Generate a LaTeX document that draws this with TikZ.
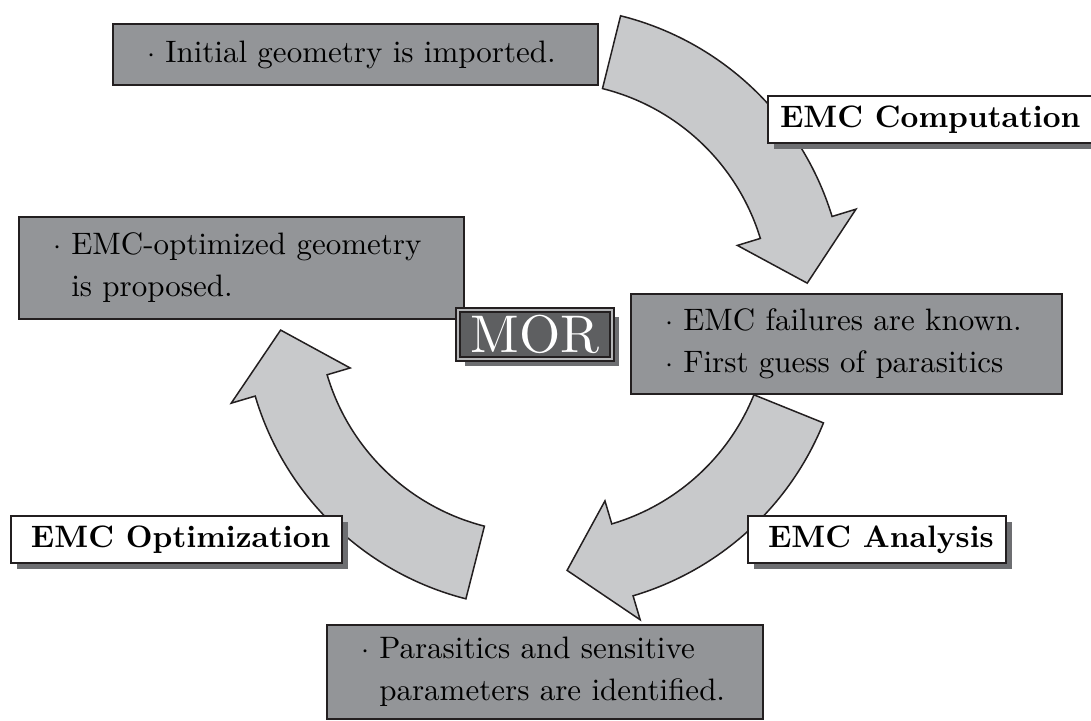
\documentclass[tikz,border=0pt]{standalone}
\usepackage{fontspec}
\setmainfont{lmroman10-regular.otf}[BoldFont=lmroman10-bold.otf, ItalicFont=lmroman10-italic.otf]
\usetikzlibrary{shadows}

\definecolor{ink}{HTML}{231F20}
\definecolor{panel}{HTML}{939598}
\definecolor{band}{HTML}{C8C9CB}
\definecolor{core}{HTML}{5E5F61}
\definecolor{shade}{HTML}{6D6E71}
\definecolor{rim}{HTML}{B5B6B8}

\tikzset{
  panel box/.style={draw=ink, line width=1pt, fill=panel, anchor=north west,
    align=left, inner xsep=17pt, inner ysep=0pt,
    font=\fontsize{15.5}{21}\selectfont},
  tag box/.style={draw=ink, line width=1pt, fill=white, anchor=north west,
    inner xsep=6pt, inner ysep=0pt, minimum height=23.5pt,
    font=\fontsize{15.5}{21}\selectfont\bfseries,
    drop shadow={shadow xshift=3pt, shadow yshift=-3pt, fill=shade, opacity=1}},
  bend arrow/.style={draw=ink, line width=0.75pt, fill=band, line join=miter},
}

\begin{document}
\begin{tikzpicture}[x=0.5pt, y=0.5pt]
\useasboundingbox (0,0) rectangle (1091,-720);

% centres of the three curved arrows
\coordinate (c1) at (549,-303);
\coordinate (c2) at (549,-312);
\coordinate (c3) at (539,-312);

% curved block arrows (outer radius 296, inner 221, head 197..321, tip 259)
\begin{scope}[shift={(c1)}]
  \draw[bend arrow] (76:296) arc[start angle=76, end angle=17, radius=296]
    -- (17:321) -- (4.4:259) -- (17:197) -- (17:221)
    arc[start angle=17, end angle=76, radius=221] -- cycle;
\end{scope}
\begin{scope}[shift={(c2)}]
  \draw[bend arrow] (-22:296) arc[start angle=-22, end angle=-73.5, radius=296]
    -- (-73.5:321) -- (-86:259) -- (-73.5:197) -- (-73.5:221)
    arc[start angle=-73.5, end angle=-22, radius=221] -- cycle;
\end{scope}
\begin{scope}[shift={(c3)}]
  \draw[bend arrow] (255.7:296) arc[start angle=255.7, end angle=196.5, radius=296]
    -- (196.5:321) -- (184:259) -- (196.5:197) -- (196.5:221)
    arc[start angle=196.5, end angle=255.7, radius=221] -- cycle;
\end{scope}

% stage descriptions
\node[panel box, text width=208.5pt, minimum height=30.5pt] (imported) at (112,-23)
  {\mbox{$\cdot$ Initial geometry is imported.}};
\node[panel box, text width=188.5pt, minimum height=51pt] (proposed) at (18,-216)
  {\mbox{$\cdot$ EMC-optimized geometry}\\\mbox{\hphantom{$\cdot$\ }is proposed.}};
\node[panel box, text width=181.5pt, minimum height=50pt] (known) at (630,-293)
  {\mbox{$\cdot$ EMC failures are known.}\\\mbox{$\cdot$ First guess of parasitics}};
\node[panel box, text width=184pt, minimum height=47pt] (identified) at (326,-624)
  {\mbox{$\cdot$ Parasitics and sensitive}\\\mbox{\hphantom{$\cdot$\ }parameters are identified.}};

% step labels
\node[tag box] (computation) at (767,-95) {EMC Computation};
\node[tag box] (optimization) at (10,-515) {\hspace*{4pt}EMC Optimization};
\node[tag box] (analysis) at (747,-515) {\hspace*{4pt}EMC Analysis};

% centre badge
\node[draw=ink, line width=1pt, double=rim, double distance=1pt, fill=core,
  text=white, minimum width=77pt, minimum height=24.5pt, inner sep=0pt,
  font=\fontsize{26.5}{30}\selectfont,
  drop shadow={shadow xshift=3.5pt, shadow yshift=-3.5pt, fill=shade, opacity=1}]
  (mor) at (535,-334.5) {MOR};
\end{tikzpicture}
\end{document}
